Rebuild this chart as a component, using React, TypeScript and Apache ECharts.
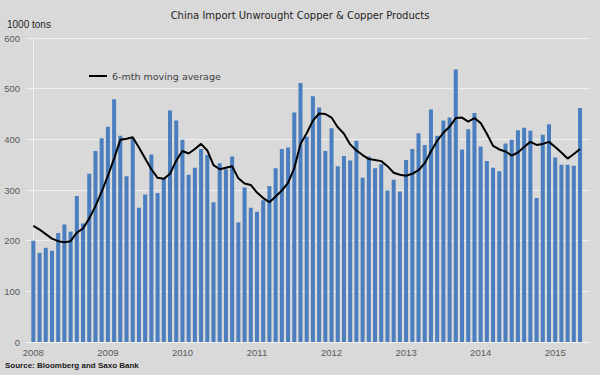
import React, { useEffect, useRef } from "react";
import * as echarts from "echarts";

const yearLabels = ["2008", "2009", "2010", "2011", "2012", "2013", "2014", "2015"];

// Monthly imports, 1000 tons, Jan 2008 - May 2015
const imports2008 = [200, 176, 186, 180, 215, 232, 218, 288, 234, 332, 377, 402];
const imports2009 = [425, 479, 407, 327, 401, 265, 291, 370, 294, 323, 457, 437];
const imports2010 = [399, 330, 344, 381, 369, 276, 353, 341, 366, 236, 305, 265];
const imports2011 = [257, 280, 308, 343, 381, 384, 453, 511, 405, 485, 463, 377];
const imports2012 = [422, 347, 367, 358, 397, 324, 366, 343, 351, 299, 320, 297];
const imports2013 = [359, 381, 412, 389, 459, 407, 437, 443, 538, 380, 420, 452];
const imports2014 = [386, 357, 344, 337, 392, 399, 418, 423, 417, 284, 409, 430];
const imports2015 = [364, 350, 350, 348, 462];

// 6-month moving average
const movingAvg = [
  229, 222, 213, 204, 199, 197, 199, 216, 224, 244, 268, 297,
  328, 362, 399, 401, 404, 384, 362, 341, 324, 322, 332, 358,
  377, 372, 381, 391, 378, 349, 341, 344, 347, 323, 313, 310,
  295, 284, 276, 287, 299, 314, 343, 391, 412, 437, 451, 450,
  443, 424, 411, 390, 378, 369, 361, 359, 357, 347, 334, 330,
  328, 332, 339, 353, 376, 397, 413, 425, 442, 443, 435, 442,
  432, 411, 387, 380, 376, 368, 374, 385, 395, 389, 391, 395,
  385, 374, 362, 371, 381,
];

const imports = [
  ...imports2008, ...imports2009, ...imports2010, ...imports2011,
  ...imports2012, ...imports2013, ...imports2014, ...imports2015,
];

export default function App() {
  const ref = useRef<HTMLDivElement>(null);
  useEffect(() => {
    if (!ref.current) return;
    const chart = echarts.init(ref.current, null, { renderer: "svg" });
    const yearTicks = yearLabels.map((_, i) => i * 12);
    chart.setOption({
      animation: false,
      backgroundColor: "#d9d9d9",
      title: {
        text: "China Import Unwrought Copper & Copper Products",
        left: "center",
        top: 5,
        textStyle: {
          fontFamily: "DejaVu Sans",
          fontSize: 10,
          fontWeight: "normal",
          color: "#1f1f1f",
        },
      },
      legend: {
        data: [{ name: "6-mth moving average", icon: "rect" }],
        left: 84,
        top: 66,
        itemWidth: 18,
        itemHeight: 2,
        textStyle: {
          fontFamily: "DejaVu Sans",
          fontSize: 9.5,
          color: "#404040",
        },
      },
      grid: { left: 26, right: 10, top: 38, bottom: 33, containLabel: false },
      xAxis: {
        type: "value",
        min: -1.18,
        max: 89.6,
        splitLine: { show: false },
        axisTick: { show: false },
        axisLine: { show: true, lineStyle: { color: "#f2f2f2", width: 1 } },
        axisLabel: {
          customValues: yearTicks,
          formatter: (v: number) => yearLabels[Math.round(v / 12)] ?? "",
          fontFamily: "Liberation Sans",
          fontSize: 9.5,
          color: "#595959",
          margin: 5,
        },
      },
      yAxis: {
        type: "value",
        min: 0,
        max: 600,
        interval: 100,
        axisLine: { show: true, lineStyle: { color: "#f2f2f2", width: 1 } },
        axisTick: { show: false },
        splitLine: { show: true, lineStyle: { color: "#efefef", width: 1 } },
        axisLabel: {
          fontFamily: "Liberation Sans",
          fontSize: 9.5,
          color: "#595959",
          margin: 6,
        },
      },
      graphic: [
        {
          type: "text",
          left: 7,
          top: 19,
          style: {
            text: "1000 tons",
            fontFamily: "Liberation Sans",
            fontSize: 10,
            fill: "#262626",
          },
        },
        {
          type: "text",
          left: 5,
          top: 361,
          style: {
            text: "Source: Bloomberg and Saxo Bank",
            fontFamily: "Liberation Sans",
            fontSize: 8,
            fontWeight: "bold",
            fill: "#1a1a1a",
          },
        },
      ],
      series: [
        {
          name: "Imports",
          type: "bar",
          barWidth: 4,
          itemStyle: { color: "#4a7ebf" },
          data: imports.map((v, i) => [i, v]),
        },
        {
          name: "6-mth moving average",
          type: "line",
          symbol: "none",
          lineStyle: { color: "#000000", width: 2 },
          itemStyle: { color: "#000000" },
          data: movingAvg.map((v, i) => [i, v]),
        },
      ],
    });
    return () => chart.dispose();
  }, []);
  return (
    <div
      ref={ref}
      style={{ position: "fixed", left: 0, top: 0, width: 600, height: 375 }}
    />
  );
}
